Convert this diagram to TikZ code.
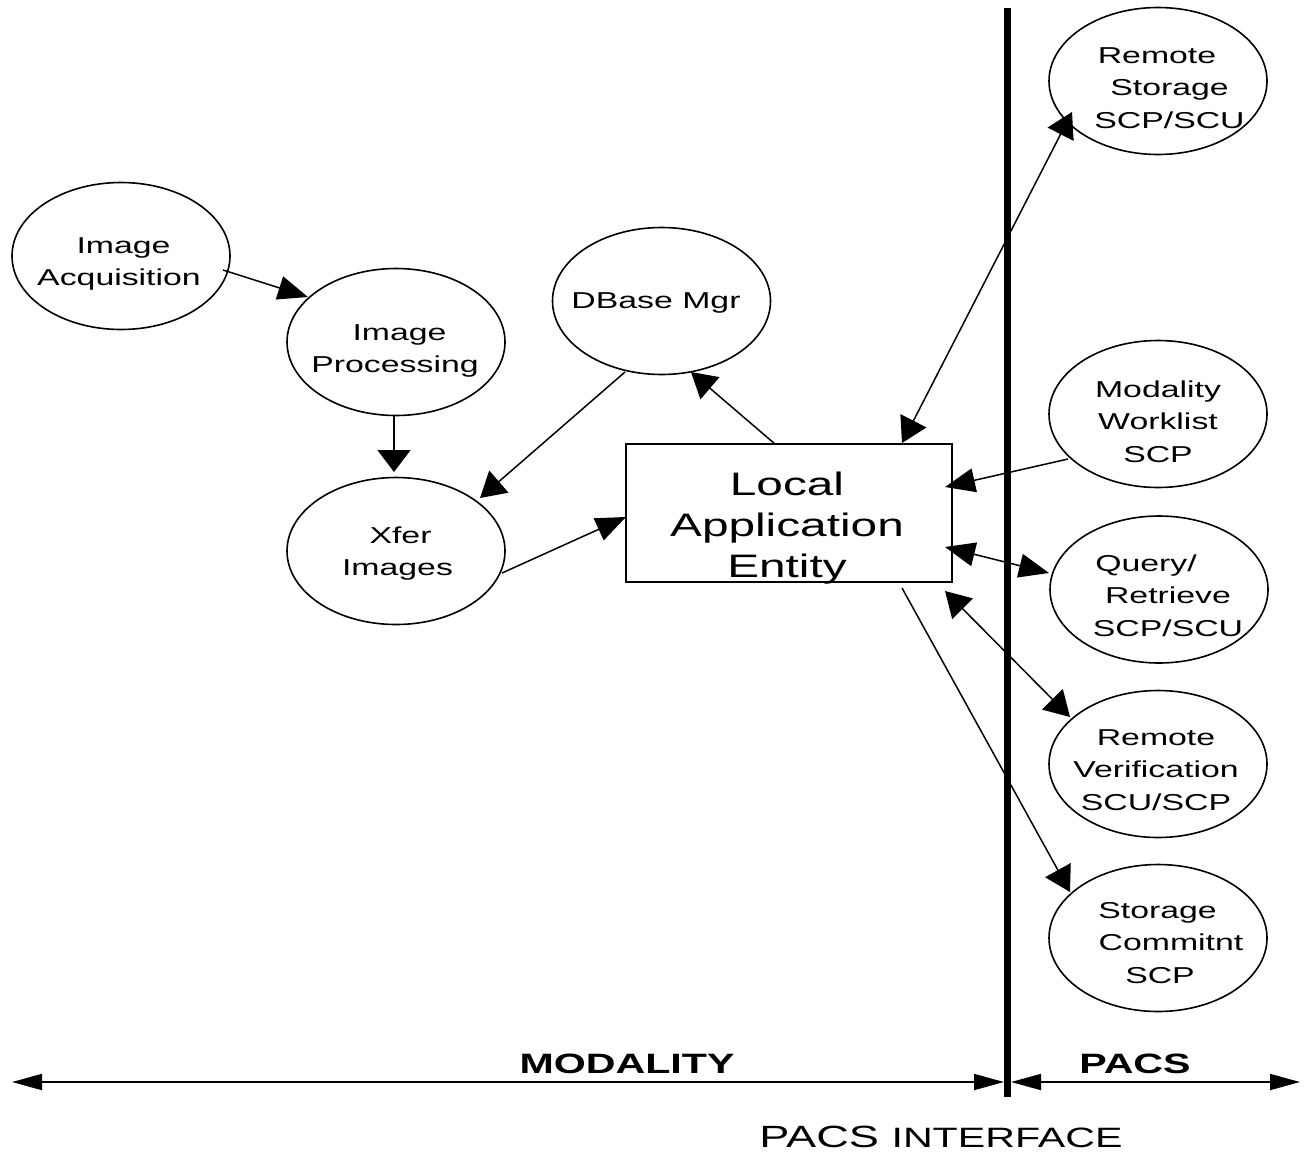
\documentclass[tikz,border=0pt]{standalone}
\usepackage{fontspec}
\setmainfont[FakeStretch=1.47]{Liberation Sans}
\usetikzlibrary{shapes.geometric,arrows.meta,calc}
\tikzset{
  myD/.tip={Triangle[length=25pt,width=29pt]},
  myH/.tip={Triangle[length=30pt,width=24pt]},
  myV/.tip={Triangle[length=22pt,width=33pt]},
  myA/.tip={Triangle[length=30pt,width=16pt]},
  ell/.style={draw, ellipse, line width=1.6pt, minimum width=218pt, minimum height=147pt, inner sep=0pt},
  lbl/.style={align=center, font=\fontsize{23}{32.5}\selectfont, inner sep=0pt, anchor=base},
  conn/.style={line width=1.5pt},
  axis/.style={line width=1.8pt, myA-myA},
  bigtext/.style={font=\fontsize{28}{34}\selectfont\bfseries, inner sep=0pt, anchor=base}
}
\begin{document}
\begin{tikzpicture}[x=1pt, y=-1pt]
\useasboundingbox (0,0) rectangle (1308,1154);

% ellipses
\node[ell] (acq) at (121,256) {};
\node[ell] (proc) at (396,342) {};
\node[ell] (xfer) at (396,551) {};
\node[ell] (dbase) at (661.5,301) {};
\node[ell] (rs) at (1158,81) {};
\node[ell] (mw) at (1158,414) {};
\node[ell] (qr) at (1159,589.5) {};
\node[ell] (rv) at (1158,764) {};
\node[ell] (sc) at (1158,938) {};

% local box
\node[draw, line width=1.5pt, minimum width=326pt, minimum height=138pt, inner sep=0pt] (local) at (789,513) {};

% labels (anchored at the baseline of the last line)
\node[lbl] (acqT) at (119,285.5) {\hspace*{9pt}Image\\Acquisition};
\node[lbl] (procT) at (395,372.5) {\hspace*{9pt}Image\\Processing};
\node[lbl] (xferT) at (397.5,575.5) {\hspace*{6pt}Xfer\\Images};
\node[lbl] (dbaseT) at (656,308) {DBase Mgr};
\node[lbl] (rsT) at (1169.5,128) {Remote\hspace*{25pt}\\Storage\hspace*{24pt}\\SCP/SCU};
\node[lbl] (mwT) at (1158,462) {Modality\\Worklist\\SCP};
\node[lbl] (qrT) at (1168,636) {Query/\hspace*{44pt}\\Retrieve\hspace*{9pt}\\SCP/SCU};
\node[lbl] (rvT) at (1156,810) {Remote\\Verification\\SCU/SCP};
\node[lbl] (scT) at (1171,983) {Storage\hspace*{27pt}\\Commitnt\\SCP\hspace*{22pt}};
\node[align=center, font=\fontsize{32.5}{41}\selectfont, inner sep=0pt, anchor=base] (localT) at (787,577) {Local\\Application\\Entity};

% connectors
\draw[conn,-myH] ($(acq)+(102,14)$) -- ($(proc)+(-88,-45)$);
\draw[conn,-myV] ($(proc)+(-2,73)$) -- ($(xfer)+(-2,-79)$);
\draw[conn,-myD] ($(dbase)+(-36.5,71)$) -- ($(xfer)+(84,-53)$);
\draw[conn,-myH] ($(xfer)+(106,22)$) -- ($(local)+(-163,4)$);
\draw[conn,-myD] ($(local)+(-14,-69)$) -- ($(dbase)+(29.5,71)$);
\draw[conn,myD-myD] ($(local)+(113,-70)$) -- ($(rs)+(-86,31)$);
\draw[conn,-myH] ($(mw)+(-90,45)$) -- ($(local)+(156,-26)$);
\draw[conn,myH-myH] ($(local)+(156,34)$) -- ($(qr)+(-110,-16.5)$);
\draw[conn,myD-myD] ($(local)+(156,78)$) -- ($(rv)+(-88,-47)$);
\draw[conn,-myD] ($(local)+(113,75)$) -- ($(sc)+(-88,-46)$);

% interface line and axis
\coordinate (vtop) at (1007.5,8);
\coordinate (vbot) at (1007.5,1097);
\draw[line width=7pt] (vtop) -- (vbot);
\coordinate (axL) at (12,1082);
\coordinate (axM1) at (1004,1082);
\coordinate (axM2) at (1011,1082);
\coordinate (axR) at (1300,1082);
\draw[axis] (axL) -- (axM1);
\draw[axis] (axM2) -- (axR);

\node[bigtext] (modT) at (627,1073) {MODALITY};
\node[bigtext] (pacsT) at (1135,1073) {PACS};
\node[inner sep=0pt, anchor=base] (ifT) at (941,1147) {\fontsize{30.7}{36}\selectfont PACS \fontsize{28}{32}\selectfont INTERFACE};
\end{tikzpicture}
\end{document}
